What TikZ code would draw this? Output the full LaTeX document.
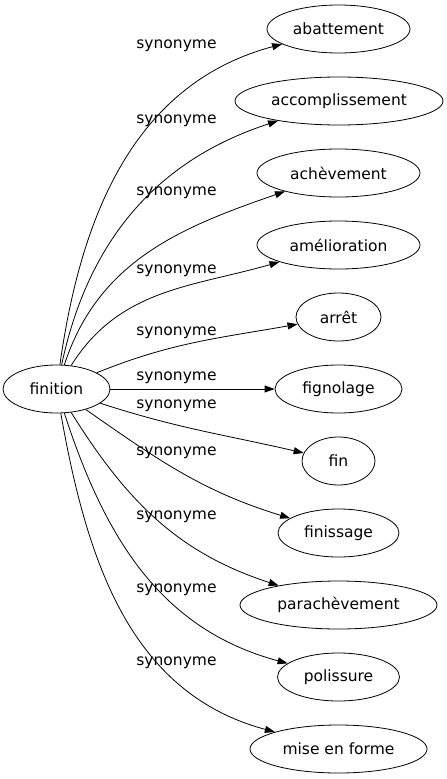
\documentclass[tikz,border=0pt]{standalone}
\usepackage{fontspec}
\setmainfont{DejaVu Sans}
\usetikzlibrary{arrows.meta,shapes.geometric}

\begin{document}
\begin{tikzpicture}[x=1pt,y=1pt,
  word/.style={draw,ellipse,line width=0.8pt,minimum width=#1,minimum height=48pt,
    inner xsep=4.5pt,font=\fontsize{15.5}{18}\selectfont},
  word/.default=73pt,
  rel/.style={font=\fontsize{15.5}{18}\selectfont},
  syn/.style={line width=0.8pt,-{Triangle[length=10pt,width=7pt]}}]
\useasboundingbox (0,0) rectangle (447,-779);

\node[word=107pt] (finition) at (56.5,-389) {finition};

\node[word=143pt] (abattement) at (338.5,-29) {abattement};
\node[word=208pt] (accomplissement) at (339,-101) {accomplissement};
\node[word=163pt] (achevement) at (338.5,-173) {achèvement};
\node[word=163pt] (amelioration) at (338.5,-245) {amélioration};
\node[word=85pt] (arret) at (338.5,-317) {arrêt};
\node[word=127pt] (fignolage) at (338.5,-389) {fignolage};
\node[word] (fin) at (338.5,-461) {fin};
\node[word=121pt] (finissage) at (338.5,-533) {finissage};
\node[word=197pt] (parachevement) at (338.5,-605) {parachèvement};
\node[word=122pt] (polissure) at (338.5,-677) {polissure};
\node[word=177pt] (miseenforme) at (338.5,-749) {mise en forme};

\draw[syn] (finition) to[out=82,in=195] (abattement);
\draw[syn] (finition) to[out=78,in=198] (accomplissement);
\draw[syn] (finition) to[out=72,in=199] (achevement);
\draw[syn] (finition) to[out=58,in=196] (amelioration);
\draw[syn] (finition) to[out=22,in=190] (arret);
\draw[syn] (finition) -- (fignolage);
\draw[syn] (finition) to[out=-18,in=167] (fin);
\draw[syn] (finition) to[out=-35,in=163] (finissage);
\draw[syn] (finition) to[out=-58,in=162] (parachevement);
\draw[syn] (finition) to[out=-72,in=165] (polissure);
\draw[syn] (finition) to[out=-80,in=165] (miseenforme);

\node[rel] (l1) at (176.5,-46) {synonyme};
\node[rel] (l2) at (176.5,-121) {synonyme};
\node[rel] (l3) at (176.5,-193) {synonyme};
\node[rel] (l4) at (176.5,-271) {synonyme};
\node[rel] (l5) at (176.5,-333) {synonyme};
\node[rel] (l6) at (176.5,-378) {synonyme};
\node[rel] (l7) at (176.5,-406) {synonyme};
\node[rel] (l8) at (176.5,-453) {synonyme};
\node[rel] (l9) at (176.5,-517) {synonyme};
\node[rel] (l10) at (176.5,-590) {synonyme};
\node[rel] (l11) at (176.5,-663) {synonyme};

\end{tikzpicture}
\end{document}
